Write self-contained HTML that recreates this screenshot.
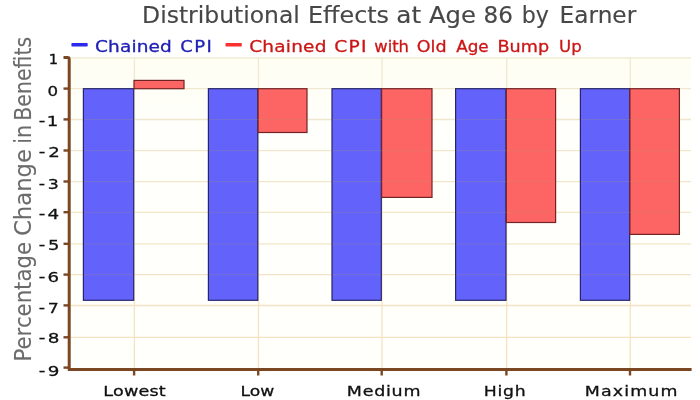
<!DOCTYPE html>
<html><head><meta charset="utf-8">
<title>Distributional Effects at Age 86 by Earner</title>
<style>
html,body{margin:0;padding:0;background:#fff;}
svg{display:block;}
text{font-family:"DejaVu Sans","Liberation Sans",sans-serif;}
</style></head><body>
<svg width="700" height="400" viewBox="0 0 700 400">
<defs>
<linearGradient id="bg" x1="0" y1="0" x2="0" y2="1"><stop offset="0" stop-color="#fffef3"/><stop offset="0.25" stop-color="#fffffc"/><stop offset="1" stop-color="#fffffc"/></linearGradient>
<linearGradient id="gl" gradientUnits="userSpaceOnUse" x1="0" y1="58" x2="0" y2="369"><stop offset="0" stop-color="#eee9d0"/><stop offset="1" stop-color="#f6e1c0"/></linearGradient>
</defs>
<rect width="700" height="400" fill="#fff"/>
<rect x="70.5" y="58" width="620.5" height="311" fill="url(#bg)"/>
<g stroke-width="1.3">
<line x1="70.5" x2="691" y1="57.8" y2="57.8" stroke="#eee9d0"/>
<line x1="70.5" x2="691" y1="88.7" y2="88.7" stroke="#eee9d0"/>
<line x1="70.5" x2="691" y1="119.5" y2="119.5" stroke="#efe8ce"/>
<line x1="70.5" x2="691" y1="150.6" y2="150.6" stroke="#f0e7cc"/>
<line x1="70.5" x2="691" y1="181.6" y2="181.6" stroke="#f1e6ca"/>
<line x1="70.5" x2="691" y1="212.3" y2="212.3" stroke="#f2e5c8"/>
<line x1="70.5" x2="691" y1="243.9" y2="243.9" stroke="#f3e4c6"/>
<line x1="70.5" x2="691" y1="274.7" y2="274.7" stroke="#f4e3c4"/>
<line x1="70.5" x2="691" y1="305.5" y2="305.5" stroke="#f5e2c2"/>
<line x1="70.5" x2="691" y1="337.4" y2="337.4" stroke="#f6e1c0"/>
<line y1="58" y2="369" x1="134.4" x2="134.4" stroke="url(#gl)"/>
<line y1="58" y2="369" x1="258.5" x2="258.5" stroke="url(#gl)"/>
<line y1="58" y2="369" x1="382.0" x2="382.0" stroke="url(#gl)"/>
<line y1="58" y2="369" x1="506.7" x2="506.7" stroke="url(#gl)"/>
<line y1="58" y2="369" x1="630.3" x2="630.3" stroke="url(#gl)"/>
</g>
<g stroke-width="1.2">
<g fill="#6363fb" stroke="#25256c">
<rect x="83.4" y="88.7" width="50.3" height="211.6"/>
<rect x="208.4" y="88.7" width="49.4" height="211.6"/>
<rect x="332.0" y="88.7" width="49.3" height="211.6"/>
<rect x="455.6" y="88.7" width="50.4" height="211.6"/>
<rect x="580.4" y="88.7" width="49.2" height="211.6"/>
</g><g fill="#fd6565" stroke="#722424">
<rect x="134.0" y="80.4" width="50.0" height="8.3"/>
<rect x="258.1" y="88.7" width="48.9" height="43.8"/>
<rect x="381.6" y="88.7" width="50.4" height="108.7"/>
<rect x="506.3" y="88.7" width="49.3" height="133.8"/>
<rect x="629.9" y="88.7" width="49.5" height="145.7"/>
</g></g>
<g stroke="#b09a60" stroke-width="1" opacity="0.22">
<line x1="84.0" x2="133.1" y1="274.7" y2="274.7"/>
<line x1="209.0" x2="257.2" y1="274.7" y2="274.7"/>
<line x1="332.6" x2="380.7" y1="274.7" y2="274.7"/>
<line x1="456.2" x2="505.4" y1="274.7" y2="274.7"/>
<line x1="581.0" x2="629.0" y1="274.7" y2="274.7"/>
<line x1="84.0" x2="133.1" y1="243.9" y2="243.9"/>
<line x1="209.0" x2="257.2" y1="243.9" y2="243.9"/>
<line x1="332.6" x2="380.7" y1="243.9" y2="243.9"/>
<line x1="456.2" x2="505.4" y1="243.9" y2="243.9"/>
<line x1="581.0" x2="629.0" y1="243.9" y2="243.9"/>
<line x1="84.0" x2="133.1" y1="212.3" y2="212.3"/>
<line x1="209.0" x2="257.2" y1="212.3" y2="212.3"/>
<line x1="332.6" x2="380.7" y1="212.3" y2="212.3"/>
<line x1="456.2" x2="555.0" y1="212.3" y2="212.3"/>
<line x1="581.0" x2="678.8" y1="212.3" y2="212.3"/>
<line x1="84.0" x2="133.1" y1="181.6" y2="181.6"/>
<line x1="209.0" x2="257.2" y1="181.6" y2="181.6"/>
<line x1="332.6" x2="431.4" y1="181.6" y2="181.6"/>
<line x1="456.2" x2="555.0" y1="181.6" y2="181.6"/>
<line x1="581.0" x2="678.8" y1="181.6" y2="181.6"/>
<line x1="84.0" x2="133.1" y1="150.6" y2="150.6"/>
<line x1="209.0" x2="257.2" y1="150.6" y2="150.6"/>
<line x1="332.6" x2="431.4" y1="150.6" y2="150.6"/>
<line x1="456.2" x2="555.0" y1="150.6" y2="150.6"/>
<line x1="581.0" x2="678.8" y1="150.6" y2="150.6"/>
<line x1="84.0" x2="133.1" y1="119.5" y2="119.5"/>
<line x1="209.0" x2="306.4" y1="119.5" y2="119.5"/>
<line x1="332.6" x2="431.4" y1="119.5" y2="119.5"/>
<line x1="456.2" x2="555.0" y1="119.5" y2="119.5"/>
<line x1="581.0" x2="678.8" y1="119.5" y2="119.5"/>
</g>
<g stroke="#7a4722" fill="none">
<path d="M69.2 370.8 V59.3 Q69.2 57.6 67.5 57.6 H63.5" stroke-width="3"/>
<line x1="68" x2="691.6" y1="369.4" y2="369.4" stroke-width="3"/>
<g stroke-width="2.4">
<line x1="63.5" x2="69" y1="337.3" y2="337.3"/>
<line x1="63.5" x2="69" y1="305.4" y2="305.4"/>
<line x1="63.5" x2="69" y1="274.6" y2="274.6"/>
<line x1="63.5" x2="69" y1="243.8" y2="243.8"/>
<line x1="63.5" x2="69" y1="212.2" y2="212.2"/>
<line x1="63.5" x2="69" y1="181.5" y2="181.5"/>
<line x1="63.5" x2="69" y1="150.5" y2="150.5"/>
<line x1="63.5" x2="69" y1="119.4" y2="119.4"/>
<line x1="63.5" x2="69" y1="88.6" y2="88.6"/>
<line x1="63.5" x2="69" y1="367.6" y2="367.6"/>
<line x1="134.1" x2="134.1" y1="369.4" y2="375.5"/>
<line x1="258.2" x2="258.2" y1="369.4" y2="375.5"/>
<line x1="381.7" x2="381.7" y1="369.4" y2="375.5"/>
<line x1="506.4" x2="506.4" y1="369.4" y2="375.5"/>
<line x1="630.0" x2="630.0" y1="369.4" y2="375.5"/>
</g></g>
<rect x="71.4" y="42.9" width="16.3" height="3.6" rx="0.8" fill="#2b2bf0"/>
<rect x="225.5" y="42.9" width="16.3" height="3.6" rx="0.8" fill="#f83030"/>
<text id="t0" x="142.13" y="22.9" font-size="23.3" fill="#474747" stroke="#474747" stroke-width="0.15" textLength="157.69" lengthAdjust="spacingAndGlyphs">Distributional</text>
<text id="t1" x="307.97" y="22.9" font-size="23.3" fill="#474747" stroke="#474747" stroke-width="0.15" textLength="81.04" lengthAdjust="spacingAndGlyphs">Effects</text>
<text id="t2" x="396.33" y="22.9" font-size="23.3" fill="#474747" stroke="#474747" stroke-width="0.15" textLength="24.89" lengthAdjust="spacingAndGlyphs">at</text>
<text id="t3" x="428.97" y="22.9" font-size="23.3" fill="#474747" stroke="#474747" stroke-width="0.15" textLength="46.96" lengthAdjust="spacingAndGlyphs">Age</text>
<text id="t4" x="483.50" y="22.9" font-size="23.3" fill="#474747" stroke="#474747" stroke-width="0.15" textLength="29.42" lengthAdjust="spacingAndGlyphs">86</text>
<text id="t5" x="521.78" y="22.9" font-size="23.3" fill="#474747" stroke="#474747" stroke-width="0.15" textLength="27.19" lengthAdjust="spacingAndGlyphs">by</text>
<text id="t6" x="559.58" y="22.9" font-size="23.3" fill="#474747" stroke="#474747" stroke-width="0.15" textLength="76.63" lengthAdjust="spacingAndGlyphs">Earner</text>
<text id="lb0" x="94.96" y="52.3" font-size="15.4" fill="#2020b4" stroke="#2020b4" stroke-width="0.3" letter-spacing="0.12" textLength="77.06" lengthAdjust="spacingAndGlyphs">Chained</text>
<text id="lb1" x="180.21" y="52.3" font-size="15.4" fill="#2020b4" stroke="#2020b4" stroke-width="0.3" letter-spacing="1.21" textLength="33.09" lengthAdjust="spacingAndGlyphs">CPI</text>
<text id="lr0" x="249.15" y="52.3" font-size="15.4" fill="#cc1616" stroke="#cc1616" stroke-width="0.3" letter-spacing="0.19" textLength="77.56" lengthAdjust="spacingAndGlyphs">Chained</text>
<text id="lr1" x="334.30" y="52.3" font-size="15.4" fill="#cc1616" stroke="#cc1616" stroke-width="0.3" letter-spacing="1.05" textLength="33.50" lengthAdjust="spacingAndGlyphs">CPI</text>
<text id="lr2" x="374.26" y="52.3" font-size="15.4" fill="#cc1616" stroke="#cc1616" stroke-width="0.3" textLength="34.72" lengthAdjust="spacingAndGlyphs">with</text>
<text id="lr3" x="416.80" y="52.3" font-size="15.4" fill="#cc1616" stroke="#cc1616" stroke-width="0.3" textLength="29.80" lengthAdjust="spacingAndGlyphs">Old</text>
<text id="lr4" x="456.16" y="52.3" font-size="15.4" fill="#cc1616" stroke="#cc1616" stroke-width="0.3" textLength="32.49" lengthAdjust="spacingAndGlyphs">Age</text>
<text id="lr5" x="497.57" y="52.3" font-size="15.4" fill="#cc1616" stroke="#cc1616" stroke-width="0.3" textLength="51.50" lengthAdjust="spacingAndGlyphs">Bump</text>
<text id="lr6" x="559.03" y="52.3" font-size="15.4" fill="#cc1616" stroke="#cc1616" stroke-width="0.3" textLength="22.67" lengthAdjust="spacingAndGlyphs">Up</text>
<text id="yl0" transform="translate(30.5,361.52) rotate(-90)" font-size="23.3" fill="#6b6b6b" stroke="#6b6b6b" stroke-width="0.1" textLength="119.53" lengthAdjust="spacingAndGlyphs">Percentage</text>
<text id="yl1" transform="translate(30.5,236.00) rotate(-90)" font-size="23.3" fill="#6b6b6b" stroke="#6b6b6b" stroke-width="0.1" textLength="87.00" lengthAdjust="spacingAndGlyphs">Change</text>
<text id="yl2" transform="translate(30.5,143.82) rotate(-90)" font-size="23.3" fill="#6b6b6b" stroke="#6b6b6b" stroke-width="0.1" textLength="18.90" lengthAdjust="spacingAndGlyphs">in</text>
<text id="yl3" transform="translate(30.5,120.71) rotate(-90)" font-size="23.3" fill="#6b6b6b" stroke="#6b6b6b" stroke-width="0.1" textLength="83.99" lengthAdjust="spacingAndGlyphs">Benefits</text>
<text id="y1" x="48.65" y="64" font-size="14.7" fill="#111" stroke="#111" stroke-width="0.3" textLength="9.34" lengthAdjust="spacingAndGlyphs">1</text>
<text id="y0" x="47.55" y="96.4" font-size="14.7" fill="#111" stroke="#111" stroke-width="0.3" textLength="10.59" lengthAdjust="spacingAndGlyphs">0</text>
<text id="ym1" x="38.81" y="126.4" font-size="14.7" fill="#111" stroke="#111" stroke-width="0.3" letter-spacing="1.14" textLength="21.04" lengthAdjust="spacingAndGlyphs">-1</text>
<text id="ym2" x="38.76" y="157" font-size="14.7" fill="#111" stroke="#111" stroke-width="0.3" letter-spacing="2.37" textLength="24.05" lengthAdjust="spacingAndGlyphs">-2</text>
<text id="ym3" x="38.80" y="189.4" font-size="14.7" fill="#111" stroke="#111" stroke-width="0.3" letter-spacing="2.24" textLength="22.63" lengthAdjust="spacingAndGlyphs">-3</text>
<text id="ym4" x="38.79" y="219" font-size="14.7" fill="#111" stroke="#111" stroke-width="0.3" letter-spacing="1.73" textLength="22.51" lengthAdjust="spacingAndGlyphs">-4</text>
<text id="ym5" x="38.78" y="250" font-size="14.7" fill="#111" stroke="#111" stroke-width="0.3" letter-spacing="2.31" textLength="23.58" lengthAdjust="spacingAndGlyphs">-5</text>
<text id="ym6" x="38.80" y="282.4" font-size="14.7" fill="#111" stroke="#111" stroke-width="0.3" letter-spacing="1.80" textLength="22.53" lengthAdjust="spacingAndGlyphs">-6</text>
<text id="ym7" x="38.80" y="312.5" font-size="14.7" fill="#111" stroke="#111" stroke-width="0.3" letter-spacing="2.28" textLength="22.73" lengthAdjust="spacingAndGlyphs">-7</text>
<text id="ym8" x="38.79" y="343.4" font-size="14.7" fill="#111" stroke="#111" stroke-width="0.3" letter-spacing="1.80" textLength="22.77" lengthAdjust="spacingAndGlyphs">-8</text>
<text id="ym9" x="38.79" y="375.6" font-size="14.7" fill="#111" stroke="#111" stroke-width="0.3" letter-spacing="1.80" textLength="22.77" lengthAdjust="spacingAndGlyphs">-9</text>
<text id="x0" x="103.27" y="395.6" font-size="14.6" fill="#111" stroke="#111" stroke-width="0.3" letter-spacing="0.17" textLength="62.68" lengthAdjust="spacingAndGlyphs">Lowest</text>
<text id="x1" x="240.49" y="395.6" font-size="14.6" fill="#111" stroke="#111" stroke-width="0.3" letter-spacing="0.03" textLength="33.86" lengthAdjust="spacingAndGlyphs">Low</text>
<text id="x2" x="346.83" y="395.6" font-size="14.6" fill="#111" stroke="#111" stroke-width="0.3" letter-spacing="0.61" textLength="74.33" lengthAdjust="spacingAndGlyphs">Medium</text>
<text id="x3" x="483.80" y="395.6" font-size="14.6" fill="#111" stroke="#111" stroke-width="0.3" letter-spacing="0.61" textLength="42.47" lengthAdjust="spacingAndGlyphs">High</text>
<text id="x4" x="584.84" y="395.6" font-size="14.6" fill="#111" stroke="#111" stroke-width="0.3" letter-spacing="0.95" textLength="93.79" lengthAdjust="spacingAndGlyphs">Maximum</text>
</svg>
</body></html>
